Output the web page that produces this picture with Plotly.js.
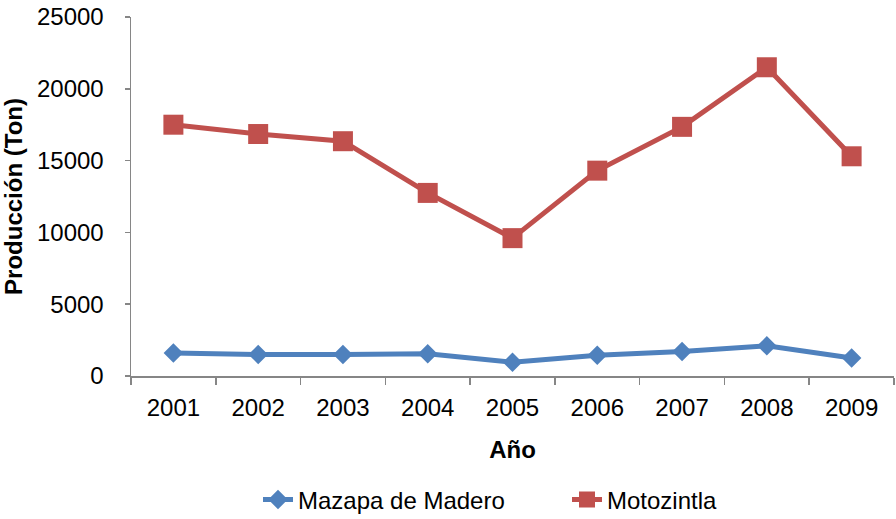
<!DOCTYPE html>
<html>
<head>
<meta charset="utf-8">
<script src="https://cdn.plot.ly/plotly-3.0.1.min.js"></script>
<style>html,body{margin:0;padding:0;background:#fff;}#chart{width:896px;height:519px;}</style>
</head>
<body>
<div id="chart"></div>
<script>
const years = ["2001","2002","2003","2004","2005","2006","2007","2008","2009"];
const mazapa = [1600, 1500, 1500, 1550, 950, 1450, 1700, 2100, 1250];
const motozintla = [17500, 16850, 16350, 12750, 9600, 14300, 17350, 21500, 15300];
const seriesNames = ["Mazapa de Madero", "Motozintla"];

const tickFont = {family: "Liberation Sans, Arial, sans-serif", size: 24, color: "#000"};
const titleFont = {family: "Liberation Sans Narrow, Arial Narrow, Liberation Sans, sans-serif", size: 24, color: "#000", weight: "bold"};

const traces = [
  {x: years, y: mazapa, name: seriesNames[0], type: "scatter", mode: "lines+markers",
   line: {color: "#4F81BD", width: 5}, marker: {symbol: "diamond", size: 15, color: "#4F81BD"}},
  {x: years, y: motozintla, name: seriesNames[1], type: "scatter", mode: "lines+markers",
   line: {color: "#C0504D", width: 5}, marker: {symbol: "square", size: 20, color: "#C0504D"}}
];

const layout = {
  width: 896, height: 519,
  margin: {l: 131, r: 2, t: 17, b: 143, autoexpand: false},
  paper_bgcolor: "#fff", plot_bgcolor: "#fff",
  showlegend: true,
  legend: {orientation: "h", x: 258/896, xref: "container", xanchor: "left",
           y: 19/519, yref: "container", yanchor: "middle",
           font: tickFont, entrywidth: 264, entrywidthmode: "pixels", tracegroupgap: 0},
  xaxis: {
    type: "category", range: [-0.5, years.length - 0.5], tickson: "boundaries", ticks: "outside", ticklen: 7,
    tickcolor: "#868686", tickwidth: 1.5,
    showline: true, linecolor: "#868686", linewidth: 1.5, showgrid: false, zeroline: false, automargin: false,
    tickfont: tickFont, ticklabelstandoff: 10,
    title: {text: "Año", font: titleFont, standoff: 21}
  },
  yaxis: {
    range: [0, 25000], dtick: 5000, tickformat: "d", ticks: "outside", ticklen: 5, tickcolor: "#868686", tickwidth: 1.5,
    showline: true, linecolor: "#868686", linewidth: 1.5, showgrid: false, zeroline: false, automargin: false,
    tickfont: tickFont, ticklabelstandoff: 16,
    title: {text: "Producción (Ton)", font: titleFont, standoff: 12}
  }
};

Plotly.newPlot("chart", traces, layout, {displayModeBar: false, staticPlot: true});
</script>
</body>
</html>
